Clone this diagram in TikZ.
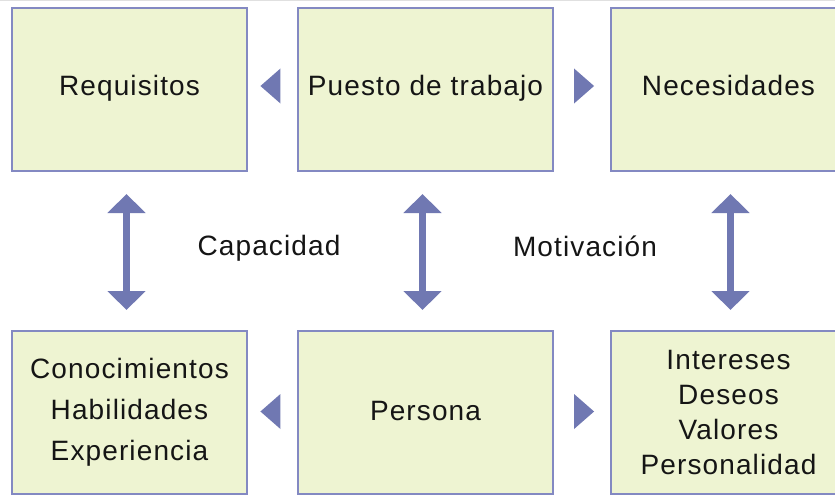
\documentclass[tikz,border=0pt]{standalone}
\usepackage{fontspec}
\setmainfont{Liberation Sans}
\usetikzlibrary{arrows.meta,shapes.geometric}
\definecolor{boxfill}{HTML}{EEF4D2}
\definecolor{boxline}{HTML}{8389C2}
\definecolor{arrowcol}{HTML}{7078B2}
\definecolor{txt}{HTML}{151515}
\tikzset{
  x=1pt, y=-1pt,
  box/.style={draw=boxline, line width=2pt, fill=boxfill, minimum width=235pt, minimum height=163pt, inner sep=0pt, text=txt, align=center, anchor=north west},
  boxwide/.style={box, minimum width=255pt},
  boxright/.style={box, minimum width=235pt},
  txtfont/.style={font=\fontsize{28}{34}\selectfont\addfontfeature{LetterSpace=4}},
  oneline/.style={text height=21pt, text depth=9pt},
  tri/.style={isosceles triangle, isosceles triangle stretches=true, fill=arrowcol, draw=none, minimum height=20pt, minimum width=35pt, inner sep=0pt},
  dblarrow/.style={draw=arrowcol, line width=7pt, {Triangle[width=37pt,length=19pt]}-{Triangle[width=37pt,length=19pt]}},
  lbl/.style={text=txt, inner sep=0pt}
}
\begin{document}
\begin{tikzpicture}
\clip (0,0) rectangle (835,495);
\fill[white] (0,0) rectangle (835,495);
\draw[black!12, line width=1.5pt] (0,0.5) -- (835,0.5);
% top row
\node[box, txtfont, oneline] (req) at (11,7) {Requisitos};
\node[boxwide, txtfont, oneline] (puesto) at (297,7) {Puesto de trabajo};
\node[boxright, txtfont, oneline] (nec) at (610,7) {Necesidades};
% bottom row
\node[box, font=\fontsize{28}{41}\selectfont\addfontfeature{LetterSpace=4}] (conoc) at (11,330) {Conocimientos\\Habilidades\\Experiencia};
\node[boxwide, txtfont, text height=21pt, text depth=6pt] (persona) at (297,330) {Persona};
\node[boxright, font=\fontsize{28}{35}\selectfont\addfontfeature{LetterSpace=4}] (inter) at (610,330) {Intereses\\Deseos\\Valores\\Personalidad};
% horizontal arrowheads
\path ([yshift=3.5pt]puesto.west) -- ([yshift=3.5pt]req.east) node[tri, pos=0.5, shape border rotate=180] (t1) {};
\path ([yshift=3.5pt]puesto.east) -- ([yshift=3.5pt]nec.west) node[tri, pos=0.5] (t2) {};
\path ([yshift=1pt]persona.west) -- ([yshift=1pt]conoc.east) node[tri, pos=0.5, shape border rotate=180] (t3) {};
\path ([yshift=1pt]persona.east) -- ([yshift=1pt]inter.west) node[tri, pos=0.5] (t4) {};
% vertical double arrows
\draw[dblarrow, shorten <=22pt, shorten >=20pt] ([xshift=-3pt]req.south) -- ([xshift=-3pt]conoc.north);
\draw[dblarrow, shorten <=22pt, shorten >=20pt] ([xshift=-3pt]puesto.south) -- ([xshift=-3pt]persona.north);
\draw[dblarrow, shorten <=22pt, shorten >=20pt] ([xshift=2pt]nec.south) -- ([xshift=2pt]inter.north);
% labels
\node[lbl, txtfont] (cap) at (269,248) {Capacidad};
\node[lbl, txtfont] (mot) at (585,246) {Motivación};
\end{tikzpicture}
\end{document}
